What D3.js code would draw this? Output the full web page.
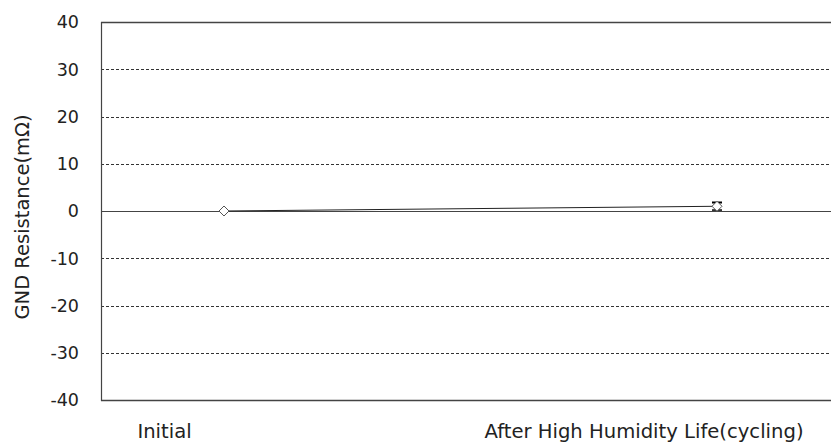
<!DOCTYPE html>
<html><head><meta charset="utf-8">
<script src="https://cdn.jsdelivr.net/npm/d3@7"></script>
<style>body{margin:0;background:#fff}svg{display:block}</style>
</head><body>
<script>
const categories = ["Initial", "After High Humidity Life(cycling)"];
const values = [0, 1.0];
const errors = [0, 0.8];
const yTicks = [40, 30, 20, 10, 0, -10, -20, -30, -40];
const yTitle = "GND Resistance(m\u03A9)";

(function(){
const W = 831, H = 443;
const svg = d3.select("body").append("svg").attr("width", W).attr("height", H);
const pL = 101, pR = 831, pT = 22, pB = 400;
const font = "'DejaVu Sans', Verdana, sans-serif";

const y = d3.scaleLinear().domain([-40, 40]).range([pB, pT]);
const xPt = d3.scalePoint().domain(categories).range([224, 717]);
const xLab = d3.scalePoint().domain(categories).range([164.5, 644]);

svg.append("g").selectAll("line").data(yTicks).join("line")
  .attr("x1", pL).attr("x2", pR)
  .attr("y1", d => Math.round(y(d)) + 0.5).attr("y2", d => Math.round(y(d)) + 0.5)
  .attr("stroke", d => (d === 40 || d === -40 || d === 0) ? "#444" : "#333")
  .attr("stroke-width", d => (d === 40 || d === -40) ? 1.5 : 1)
  .attr("stroke-dasharray", d => (d === 40 || d === -40 || d === 0) ? null : "3,2");

svg.append("line").attr("x1", pL + 0.5).attr("x2", pL + 0.5)
  .attr("y1", pT).attr("y2", pB + 1).attr("stroke", "#444").attr("stroke-width", 1.2);

svg.append("g").selectAll("text").data(yTicks).join("text")
  .attr("x", 79).attr("y", d => y(d)).attr("dy", "0.36em")
  .attr("text-anchor", "end").attr("font-family", font).attr("font-size", 17.5)
  .attr("fill", "#222").text(d => d);

svg.append("text").attr("transform", `translate(29,217) rotate(-90)`)
  .attr("text-anchor", "middle").attr("font-family", font).attr("font-size", 19.5)
  .attr("fill", "#222").text(yTitle);

svg.append("g").selectAll("text").data(categories).join("text")
  .attr("x", d => xLab(d)).attr("y", 438)
  .attr("text-anchor", "middle").attr("font-family", font).attr("font-size", 19.6)
  .attr("fill", "#222").text(d => d);

const pts = categories.map((c, i) => ({c, v: values[i], e: errors[i]}));
svg.append("path").datum(pts)
  .attr("d", d3.line().x(d => xPt(d.c)).y(d => y(d.v)))
  .attr("fill", "none").attr("stroke", "#222").attr("stroke-width", 1);

const eb = svg.append("g").selectAll("g").data(pts.filter(d => d.e > 0)).join("g");
eb.append("line").attr("x1", d => xPt(d.c)).attr("x2", d => xPt(d.c))
  .attr("y1", d => y(d.v + d.e)).attr("y2", d => y(d.v - d.e)).attr("stroke", "#000").attr("stroke-width", 1.5);
eb.append("line").attr("x1", d => xPt(d.c) - 5).attr("x2", d => xPt(d.c) + 5)
  .attr("y1", d => y(d.v + d.e)).attr("y2", d => y(d.v + d.e)).attr("stroke", "#000").attr("stroke-width", 2);
eb.append("line").attr("x1", d => xPt(d.c) - 5).attr("x2", d => xPt(d.c) + 5)
  .attr("y1", d => y(d.v - d.e)).attr("y2", d => y(d.v - d.e)).attr("stroke", "#000").attr("stroke-width", 1.5);

svg.append("g").selectAll("path").data(pts).join("path")
  .attr("transform", d => `translate(${xPt(d.c)},${y(d.v)})`)
  .attr("d", "M0,-5L5,0L0,5L-5,0Z")
  .attr("fill", "#fff").attr("stroke", "#555").attr("stroke-width", 1);
})();
</script>
</body></html>
